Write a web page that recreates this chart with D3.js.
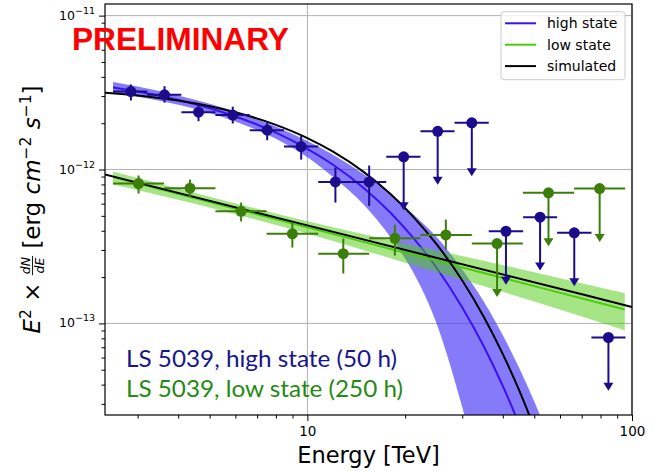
<!DOCTYPE html>
<html>
<head>
<meta charset="utf-8">
<script src="https://cdn.jsdelivr.net/npm/d3@7"></script>
<style>
  body { margin: 0; background: #fff; }
  svg { display: block; }
  text { white-space: pre; }
</style>
</head>
<body>
<div id="chart"></div>
<script>
// high state (50 h) binned points
const hiE    = [2.86, 3.63, 4.62, 5.89, 7.52, 9.57, 12.2, 15.5, 19.8, 25.2, 32.1, 40.9, 52.1, 66.4, 84.6];
const hiELo  = [2.52, 3.21, 4.09, 5.21, 6.64, 8.47, 10.8, 13.7, 17.5, 22.3, 28.4, 36.2, 46.2, 58.8, 75.0];
const hiEHi  = [3.21, 4.09, 5.21, 6.64, 8.47, 10.8, 13.7, 17.5, 22.3, 28.4, 36.2, 46.2, 58.8, 75.0, 95.5];
const hiFlux = [3.21e-12, 3.06e-12, 2.36e-12, 2.26e-12, 1.80e-12, 1.41e-12, 8.3e-13, 8.3e-13,
                1.21e-12, 1.77e-12, 2.01e-12, 3.97e-13, 4.90e-13, 3.88e-13, 8.1e-14];
const hiFluxLo = [2.81e-12, 2.72e-12, 2.06e-12, 1.99e-12, 1.55e-12, 1.16e-12, 6.1e-13, 5.8e-13,
                  null, null, null, null, null, null, null];
const hiFluxHi = [3.57e-12, 3.48e-12, 2.65e-12, 2.56e-12, 2.06e-12, 1.66e-12, 1.03e-12, 1.06e-12,
                  null, null, null, null, null, null, null];
const hiUL = [0, 0, 0, 0, 0, 0, 0, 0, 1, 1, 1, 1, 1, 1, 1];

// low state (250 h) binned points
const loE    = [3.02, 4.35, 6.25, 8.99, 12.9, 18.6, 26.7, 38.4, 55.3, 79.5];
const loELo  = [2.52, 3.62, 5.21, 7.49, 10.8, 15.5, 22.3, 32.1, 46.1, 66.3];
const loEHi  = [3.62, 5.21, 7.49, 10.8, 15.5, 22.3, 32.1, 46.1, 66.3, 95.3];
const loFlux = [8.11e-13, 7.56e-13, 5.35e-13, 3.82e-13, 2.84e-13, 3.57e-13, 3.76e-13, 3.30e-13, 7.06e-13, 7.52e-13];
const loFluxLo = [6.98e-13, 6.6e-13, 4.6e-13, 3.11e-13, 2.11e-13, 2.76e-13, 3.02e-13, null, null, null];
const loFluxHi = [9.14e-13, 8.6e-13, 6.1e-13, 4.52e-13, 3.56e-13, 4.38e-13, 4.73e-13, null, null, null];
const loUL = [0, 0, 0, 0, 0, 0, 0, 1, 1, 1];

// fitted spectra
const hiModelE  = [2.52, 3, 4, 5, 6, 8, 10, 12, 15, 18, 21, 25, 30, 35, 40, 45, 50, 55, 60];
const hiModel   = [3.41e-12, 3.21e-12, 2.83e-12, 2.50e-12, 2.21e-12, 1.736e-12, 1.364e-12, 1.074e-12, 7.51e-13,
                   5.26e-13, 3.68e-13, 2.30e-13, 1.27e-13, 7.06e-14, 3.92e-14, 2.18e-14, 1.21e-14, 6.72e-15, 3.73e-15];
const hiBandHi  = [3.70e-12, 3.46e-12, 3.03e-12, 2.68e-12, 2.38e-12, 1.90e-12, 1.53e-12, 1.247e-12, 9.24e-13,
                   6.93e-13, 5.21e-13, 3.64e-13, 2.24e-13, 1.377e-13, 8.38e-14, 5.10e-14, 3.11e-14, 1.894e-14, 1.154e-14];
const hiBandLo  = [3.146e-12, 2.972e-12, 2.64e-12, 2.333e-12, 2.055e-12, 1.583e-12, 1.202e-12, 8.93e-13, 5.83e-13,
                   3.64e-13, 2.22e-13, 1.0e-13, 2.85e-14, 7.9e-15, 2.0e-15, 1e-15, 1e-15, 1e-15, 1e-15];

const loModelE = [2.52, 5, 10, 20, 50, 95];
const loModel  = [8.93e-13, 6.14e-13, 4.21e-13, 2.88e-13, 1.747e-13, 1.231e-13];
const loBandHi = [9.72e-13, 6.66e-13, 4.61e-13, 3.31e-13, 2.15e-13, 1.568e-13];
const loBandLo = [7.98e-13, 5.67e-13, 3.84e-13, 2.48e-13, 1.388e-13, 9.02e-14];

// simulated spectra (black)
const simHiE = [2.38, 3, 4, 5, 6, 8, 10, 12, 15, 18, 21, 25, 30, 35, 40, 45, 50, 55];
const simHi  = [3.155e-12, 3.03e-12, 2.807e-12, 2.579e-12, 2.357e-12, 1.950e-12, 1.600e-12, 1.305e-12, 9.55e-13,
                6.95e-13, 5.04e-13, 3.27e-13, 1.90e-13, 1.097e-13, 6.32e-14, 3.64e-14, 2.09e-14, 1.20e-14];
const simLoE = [2.38, 10, 100];
const simLo  = [9.28e-13, 4.335e-13, 1.28e-13];

const xTicks = [10, 100];
const xMinor = [3, 4, 5, 6, 7, 8, 9, 20, 30, 40, 50, 60, 70, 80, 90];
const yTicks = [1e-11, 1e-12, 1e-13];
const yTickExp = ['\u221211', '\u221212', '\u221213'];
const yMinor = [3e-14, 4e-14, 5e-14, 6e-14, 7e-14, 8e-14, 9e-14,
                2e-13, 3e-13, 4e-13, 5e-13, 6e-13, 7e-13, 8e-13, 9e-13,
                2e-12, 3e-12, 4e-12, 5e-12, 6e-12, 7e-12, 8e-12, 9e-12];
const legendNames = ['high state', 'low state', 'simulated'];
const ulDrop = 0.45; // length of upper-limit arrows (factor)

var width = 654, height = 471;
var margin = { top: 4, right: 22, bottom: 56, left: 105 };
var innerW = width - margin.left - margin.right;
var innerH = height - margin.top - margin.bottom;

var hiPts = '#1b0c8c', loPts = '#3c7e0a';
var hiLine = '#3c12f0', loLine = '#4ccb0c';
var font = 'DejaVu Sans, sans-serif';

var svg = d3.select('#chart').append('svg')
  .attr('width', width).attr('height', height);

var g = svg.append('g')
  .attr('transform', 'translate(' + margin.left + ',' + margin.top + ')');

var x = d3.scaleLog().domain([2.38, 100]).range([0, innerW]);
var y = d3.scaleLog().domain([2.54e-14, 1.19e-11]).range([innerH, 0]);

svg.append('defs').append('clipPath').attr('id', 'plotclip')
  .append('rect').attr('width', innerW).attr('height', innerH);

// grid
g.selectAll('.gx').data(xTicks).enter().append('line')
  .attr('x1', d => x(d)).attr('x2', d => x(d))
  .attr('y1', 0).attr('y2', innerH)
  .style('stroke', '#b0b0b0').style('stroke-width', 1);
g.selectAll('.gy').data(yTicks).enter().append('line')
  .attr('x1', 0).attr('x2', innerW)
  .attr('y1', d => y(d)).attr('y2', d => y(d))
  .style('stroke', '#b0b0b0').style('stroke-width', 1);

var plot = g.append('g').attr('clip-path', 'url(#plotclip)');

function band(E, lo, hi) {
  return d3.area()
    .x((d, i) => x(E[i]))
    .y0((d, i) => y(lo[i]))
    .y1((d, i) => y(hi[i]))
    .curve(d3.curveMonotoneX)(E);
}
function curve(E, v) {
  return d3.line()
    .x((d, i) => x(E[i]))
    .y((d, i) => y(v[i]))
    .curve(d3.curveMonotoneX)(E);
}

plot.append('path').attr('d', band(hiModelE, hiBandLo, hiBandHi))
  .style('fill', '#3a2af5').style('opacity', 0.62);
plot.append('path').attr('d', curve(hiModelE, hiModel))
  .style('fill', 'none').style('stroke', hiLine).style('stroke-width', 2);
plot.append('path').attr('d', band(loModelE, loBandLo, loBandHi))
  .style('fill', loLine).style('opacity', 0.5);
plot.append('path').attr('d', curve(loModelE, loModel))
  .style('fill', 'none').style('stroke', loLine).style('stroke-width', 2);
plot.append('path').attr('d', curve(simHiE, simHi))
  .style('fill', 'none').style('stroke', '#000').style('stroke-width', 2);
plot.append('path').attr('d', curve(simLoE, simLo))
  .style('fill', 'none').style('stroke', '#000').style('stroke-width', 2);

function drawPoints(E, eLo, eHi, f, fLo, fHi, ul, color) {
  var pg = g.append('g');
  E.forEach(function (e, i) {
    pg.append('line')
      .attr('x1', x(eLo[i])).attr('x2', x(eHi[i]))
      .attr('y1', y(f[i])).attr('y2', y(f[i]))
      .style('stroke', color).style('stroke-width', 2);
    if (ul[i]) {
      var tip = y(f[i] * ulDrop);
      pg.append('line')
        .attr('x1', x(e)).attr('x2', x(e))
        .attr('y1', y(f[i])).attr('y2', tip - 4)
        .style('stroke', color).style('stroke-width', 2);
      pg.append('path')
        .attr('d', 'M' + (x(e) - 5) + ',' + (tip - 8) + 'L' + (x(e) + 5) + ',' + (tip - 8) + 'L' + x(e) + ',' + tip + 'Z')
        .style('fill', color);
    } else {
      pg.append('line')
        .attr('x1', x(e)).attr('x2', x(e))
        .attr('y1', y(fLo[i])).attr('y2', y(fHi[i]))
        .style('stroke', color).style('stroke-width', 2);
    }
    pg.append('circle')
      .attr('cx', x(e)).attr('cy', y(f[i])).attr('r', 5.5)
      .style('fill', color);
  });
}
drawPoints(loE, loELo, loEHi, loFlux, loFluxLo, loFluxHi, loUL, loPts);
drawPoints(hiE, hiELo, hiEHi, hiFlux, hiFluxLo, hiFluxHi, hiUL, hiPts);

// axes
function styleAxis(sel) {
  sel.select('.domain').remove();
  sel.selectAll('line').style('stroke', '#000').style('stroke-width', 1);
}
var xAxis = g.append('g').attr('transform', 'translate(0,' + innerH + ')')
  .call(d3.axisBottom(x).tickValues(xTicks).tickSize(6).tickPadding(5).tickFormat(d3.format('d')));
xAxis.call(styleAxis);
xAxis.selectAll('text').style('font-family', font).style('font-size', '13.5px').style('fill', '#000');
g.append('g').attr('transform', 'translate(0,' + innerH + ')')
  .call(d3.axisBottom(x).tickValues(xMinor).tickSize(3.5).tickFormat(''))
  .call(styleAxis);

var yAxis = g.append('g')
  .call(d3.axisLeft(y).tickValues(yTicks).tickSize(6).tickPadding(4).tickFormat(''));
yAxis.call(styleAxis);
yAxis.selectAll('.tick').append('text')
  .attr('x', -10).attr('dy', '0.35em')
  .style('text-anchor', 'end').style('font-family', font).style('fill', '#000')
  .each(function (d, i) {
    var t = d3.select(this);
    t.append('tspan').style('font-size', '12.5px').text('10');
    t.append('tspan').style('font-size', '9.5px').attr('dy', '-6').text(yTickExp[i]);
  });
g.append('g')
  .call(d3.axisLeft(y).tickValues(yMinor).tickSize(3.5).tickFormat(''))
  .call(styleAxis);

g.append('rect').attr('width', innerW).attr('height', innerH)
  .style('fill', 'none').style('stroke', '#000').style('stroke-width', 1.2);

// x label
svg.append('text')
  .attr('x', margin.left + innerW / 2).attr('y', 463)
  .style('text-anchor', 'middle').style('font-family', font).style('font-size', '22.5px')
  .text('Energy [TeV]');

// y label, built from pieces
var yl = svg.append('g').attr('transform', 'translate(40,' + (margin.top + innerH / 2) + ') rotate(-90)');
var p1 = yl.append('text').style('font-family', font).style('font-size', '23px');
p1.append('tspan').style('font-style', 'italic').text('E');
p1.append('tspan').attr('dy', -9).style('font-size', '15.5px').text('2');
p1.append('tspan').attr('dy', 9).text(' \u00d7 ');
var frac = yl.append('g');
var fn = frac.append('text').attr('y', -10).style('font-family', font).style('font-size', '12.5px')
  .style('font-style', 'italic').style('text-anchor', 'middle').text('dN');
var fd = frac.append('text').attr('y', 3.5).style('font-family', font).style('font-size', '12.5px')
  .style('font-style', 'italic').style('text-anchor', 'middle').text('dE');
var p2 = yl.append('text').style('font-family', font).style('font-size', '23px');
p2.append('tspan').text(' [erg ');
p2.append('tspan').style('font-style', 'italic').text('cm');
p2.append('tspan').attr('dy', -9).style('font-size', '15.5px').text('\u22122');
p2.append('tspan').attr('dy', 9).text(' ');
p2.append('tspan').style('font-style', 'italic').text('s');
p2.append('tspan').attr('dy', -9).style('font-size', '15.5px').text('\u22121');
p2.append('tspan').attr('dy', 9).text(']');
var w1 = p1.node().getComputedTextLength();
var wf = Math.max(fn.node().getComputedTextLength(), fd.node().getComputedTextLength()) + 2;
var w2 = p2.node().getComputedTextLength();
var start = -(w1 + wf + w2) / 2;
p1.attr('x', start);
frac.attr('transform', 'translate(' + (start + w1 + wf / 2) + ',0)');
frac.append('line').attr('x1', -wf / 2).attr('x2', wf / 2).attr('y1', -7.5).attr('y2', -7.5)
  .style('stroke', '#000').style('stroke-width', 0.9);
p2.attr('x', start + w1 + wf);

// legend
var lg = g.append('g').attr('transform', 'translate(' + (501 - margin.left) + ',' + (11.7 - margin.top) + ')');
lg.append('rect').attr('width', 124).attr('height', 68).attr('rx', 3)
  .style('fill', '#fff').style('fill-opacity', 0.8).style('stroke', '#cccccc').style('stroke-width', 1);
var legendColors = [hiLine, loLine, '#000'];
legendNames.forEach(function (name, i) {
  var yy = 11.6 + i * 21.4;
  lg.append('line').attr('x1', 4).attr('x2', 35).attr('y1', yy).attr('y2', yy)
    .style('stroke', legendColors[i]).style('stroke-width', 2);
  lg.append('text').attr('x', 46).attr('y', yy).attr('dy', '0.35em')
    .style('font-family', font).style('font-size', '14px').text(name);
});

// annotations
svg.append('text').attr('x', 72).attr('y', 50)
  .style('font-family', 'Liberation Sans, Arial, sans-serif').style('font-weight', 'bold')
  .style('font-size', '31px').style('fill', '#ff0000')
  .attr('textLength', 217).attr('lengthAdjust', 'spacingAndGlyphs')
  .text('PRELIMINARY');
svg.append('text').attr('x', 126).attr('y', 366.7)
  .style('font-family', 'Lato, Open Sans, sans-serif').style('font-size', '24px').style('fill', '#16168c')
  .attr('textLength', 271).attr('lengthAdjust', 'spacingAndGlyphs')
  .text('LS 5039, high state (50 h)');
svg.append('text').attr('x', 126).attr('y', 396.7)
  .style('font-family', 'Lato, Open Sans, sans-serif').style('font-size', '24px').style('fill', '#248a12')
  .attr('textLength', 277).attr('lengthAdjust', 'spacingAndGlyphs')
  .text('LS 5039, low state (250 h)');
</script>
</body>
</html>
